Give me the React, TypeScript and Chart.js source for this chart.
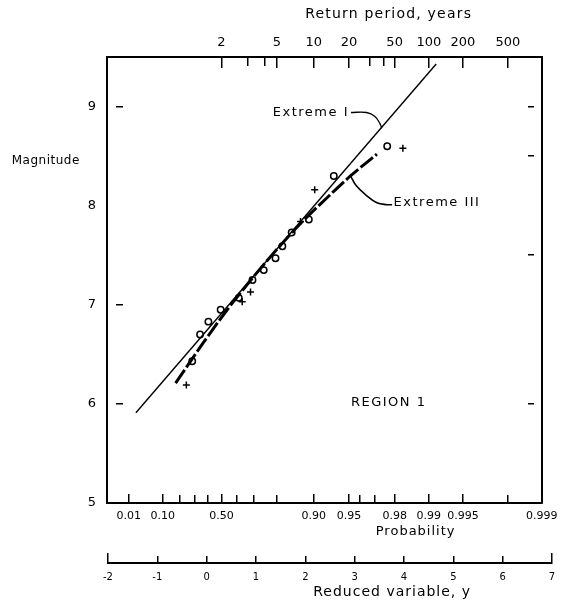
import React, { useEffect, useRef } from 'react';
import { Chart, registerables } from 'chart.js';

Chart.register(...registerables);

// ---------------- data ----------------
const probabilityTicks = [0.01, 0.1, 0.2, 0.3, 0.4, 0.5, 0.6, 0.7, 0.8, 0.9, 0.95, 0.96, 0.97, 0.98, 0.99, 0.995, 0.998, 0.999];
const probabilityLabels = ['0.01', '0.10', '', '', '', '0.50', '', '', '', '0.90', '0.95', '', '', '0.98', '0.99', '0.995', '', '0.999'];
const returnPeriods = [2, 3, 4, 5, 10, 20, 30, 40, 50, 100, 200, 500];
const returnLabels = ['2', '', '', '5', '10', '20', '', '', '50', '100', '200', '500'];
const magnitudeTicks = [5, 6, 7, 8, 9];
const magnitudeLabels = ['5', '6', '7', '8', '9'];
const leftMarks = [6, 7, 9];
const rightMarks = [6, 7.5, 8.5, 9];
const reducedTicks = [-2, -1, 0, 1, 2, 3, 4, 5, 6, 7];
const reducedLabels = ['-2', '-1', '0', '1', '2', '3', '4', '5', '6', '7'];

// observed events (reduced variable y, magnitude)
const circleY = [-0.23, -0.07, 0.10, 0.35, 0.72, 1.00, 1.23, 1.47, 1.61, 1.80, 2.15, 2.66, 3.75];
const circleMag = [6.43, 6.70, 6.83, 6.95, 7.07, 7.25, 7.35, 7.47, 7.59, 7.73, 7.86, 8.30, 8.60];
const plusY = [-0.35, 0.79, 0.96, 1.98, 2.27, 4.07];
const plusMag = [6.19, 7.03, 7.13, 7.84, 8.16, 8.58];

// fitted distributions
const extremeIY = [-1.38, 4.75];
const extremeIMag = [5.91, 9.43];
const extremeIIIY = [-0.57, 0.0, 0.5, 1.0, 1.5, 2.0, 2.5, 3.0, 3.54];
const extremeIIIMag = [6.21, 6.62, 6.96, 7.27, 7.56, 7.83, 8.07, 8.30, 8.52];

// label leader lines
const leaderIY = [3.01, 3.33, 3.50, 3.60, 3.64];
const leaderIMag = [8.94, 8.94, 8.90, 8.83, 8.78];
const leaderIIIY = [3.0, 3.12, 3.31, 3.54, 3.75, 3.85];
const leaderIIIMag = [8.30, 8.20, 8.11, 8.03, 8.01, 8.01];

// ---------------- helpers ----------------
const FAMILY = 'DejaVu Sans';
const X_MIN = -1.97;
const X_MAX = 6.91;
const gumbel = (p: number) => -Math.log(-Math.log(p));
const pts = (xs: number[], ys: number[]) => xs.map((x, i) => ({ x, y: ys[i] }));

// inward tick marks drawn as dashed grid lines
function markDash(dir: 'v' | 'h', from: 'start' | 'end', len: (c: any) => number, gap: number) {
  return (c: any) => {
    const a = c && c.chart && c.chart.chartArea;
    if (!a) return [];
    const span = dir === 'v' ? a.bottom - a.top : a.right - a.left;
    const L = len(c);
    if (from === 'start') return [0, gap, L, span * 2 + 200];
    return [0, Math.max(span - L - gap, 0), L, span * 2 + 200];
  };
}

const notesPlugin = {
  id: 'notes',
  afterDraw(chart: any, _args: any, opts: any) {
    const items = (opts && opts.items) || [];
    const ctx = chart.ctx;
    const xs = chart.scales.x;
    const ys = chart.scales.y;
    items.forEach((it: any) => {
      ctx.save();
      ctx.font = it.font;
      ctx.fillStyle = '#000';
      ctx.textAlign = it.align || 'center';
      ctx.textBaseline = 'middle';
      try { (ctx as any).letterSpacing = it.spacing || '0px'; } catch (e) { /* ignore */ }
      const px = xs.getPixelForValue(it.x);
      const py = it.y !== undefined ? ys.getPixelForValue(it.y) : chart.chartArea.bottom + it.dy;
      ctx.fillText(it.text, px, py);
      ctx.restore();
    });
  },
};

function mainConfig(): any {
  const black = '#000';
  return {
    type: 'scatter',
    data: {
      datasets: [
        {
          label: 'Extreme I',
          data: pts(extremeIY, extremeIMag),
          showLine: true,
          borderColor: black,
          borderWidth: 1.4,
          pointRadius: 0,
        },
        {
          label: 'Extreme III',
          data: pts(extremeIIIY, extremeIIIMag),
          showLine: true,
          borderColor: black,
          borderWidth: 3,
          borderDash: [16, 3],
          cubicInterpolationMode: 'monotone',
          pointRadius: 0,
        },
        {
          label: 'leader I',
          data: pts(leaderIY, leaderIMag),
          showLine: true,
          borderColor: black,
          borderWidth: 1.3,
          tension: 0.4,
          pointRadius: 0,
        },
        {
          label: 'leader III',
          data: pts(leaderIIIY, leaderIIIMag),
          showLine: true,
          borderColor: black,
          borderWidth: 1.6,
          tension: 0.4,
          pointRadius: 0,
        },
        {
          label: 'events o',
          data: pts(circleY, circleMag),
          pointStyle: 'circle',
          pointRadius: 3.2,
          borderWidth: 1.5,
          borderColor: black,
          backgroundColor: 'rgba(255,255,255,0)',
        },
        {
          label: 'events +',
          data: pts(plusY, plusMag),
          pointStyle: 'cross',
          pointRadius: 3.5,
          borderWidth: 1.5,
          borderColor: black,
        },
      ],
    },
    options: {
      responsive: false,
      animation: false,
      events: [],
      layout: { padding: { left: 67, right: 17, top: 31, bottom: 27 } },
      plugins: {
        legend: { display: false },
        tooltip: { enabled: false },
        notes: {
          items: [
            { text: 'Return period, years', x: 3.78, y: 9.93, font: `14px "${FAMILY}"`, spacing: '1.2px' },
            { text: 'Probability', x: 4.33, y: 4.71, font: `13px "${FAMILY}"`, spacing: '1px' },
            { text: 'Magnitude', x: -3.22, y: 8.45, font: `12px "${FAMILY}"`, spacing: '0.5px' },
            { text: 'Extreme I', x: 2.97, y: 8.94, font: `13px "${FAMILY}"`, spacing: '1.5px', align: 'right' },
            { text: 'Extreme III', x: 3.88, y: 8.035, font: `13px "${FAMILY}"`, spacing: '1.5px', align: 'left' },
            { text: 'REGION 1', x: 3.78, y: 6.01, font: `13px "${FAMILY}"`, spacing: '1.5px' },
          ],
        },
      },
      scales: {
        x: {
          type: 'linear',
          position: 'bottom',
          min: X_MIN,
          max: X_MAX,
          afterBuildTicks: (s: any) => { s.ticks = probabilityTicks.map((p) => ({ value: gumbel(p) })); },
          afterFit: (s: any) => { s.height = 30; },
          ticks: {
            autoSkip: false, maxRotation: 0, minRotation: 0, padding: 7, color: black,
            font: { size: 11, family: FAMILY },
            callback: (_v: any, i: number) => probabilityLabels[i] || '',
          },
          grid: { drawOnChartArea: true, drawTicks: false, color: black, lineWidth: 1.5 },
          border: {
            display: true, color: black, width: 2,
            dash: markDash('v', 'end', (c: any) => (probabilityLabels[c.index] ? 9 : 8), 0),
          },
        },
        x2: {
          type: 'linear',
          position: 'top',
          min: X_MIN,
          max: X_MAX,
          afterBuildTicks: (s: any) => { s.ticks = returnPeriods.map((t) => ({ value: gumbel(1 - 1 / t) })); },
          afterFit: (s: any) => { s.height = 26; },
          ticks: {
            autoSkip: false, maxRotation: 0, minRotation: 0, padding: 7, color: black,
            font: { size: 13, family: FAMILY },
            callback: (_v: any, i: number) => returnLabels[i] || '',
          },
          grid: { drawOnChartArea: true, drawTicks: false, color: black, lineWidth: 1.5 },
          border: {
            display: true, color: black, width: 2,
            dash: markDash('v', 'start', (c: any) => (returnLabels[c.index] ? 10 : 8), 0),
          },
        },
        y: {
          type: 'linear',
          position: 'left',
          min: 5,
          max: 9.5,
          afterBuildTicks: (s: any) => { s.ticks = magnitudeTicks.map((v) => ({ value: v })); },
          afterFit: (s: any) => { s.width = 40; },
          ticks: {
            padding: 11, color: black,
            font: { size: 13, family: FAMILY },
            callback: (_v: any, i: number) => magnitudeLabels[i] || '',
          },
          grid: {
            drawOnChartArea: true, drawTicks: false, color: black,
            lineWidth: (c: any) => (c.tick && leftMarks.includes(c.tick.value) ? 1.5 : 0),
          },
          border: { display: true, color: black, width: 2, dash: markDash('h', 'start', () => 7, 8) },
        },
        y2: {
          type: 'linear',
          position: 'right',
          min: 5,
          max: 9.5,
          afterBuildTicks: (s: any) => { s.ticks = rightMarks.map((v) => ({ value: v })); },
          afterFit: (s: any) => { s.width = 6; },
          ticks: { display: false },
          grid: { drawOnChartArea: true, drawTicks: false, color: black, lineWidth: 1.5 },
          border: { display: true, color: black, width: 2, dash: markDash('h', 'end', () => 6, 8) },
        },
      },
    },
    plugins: [notesPlugin],
  };
}

function axisConfig(): any {
  const black = '#000';
  return {
    type: 'scatter',
    data: { datasets: [] },
    options: {
      responsive: false,
      animation: false,
      events: [],
      layout: { padding: { left: 108, right: 13, top: 23, bottom: 0 } },
      plugins: {
        legend: { display: false },
        tooltip: { enabled: false },
        notes: {
          items: [
            { text: 'Reduced variable, y', x: 3.76, dy: 29, font: `14px "${FAMILY}"`, spacing: '1px' },
          ],
        },
      },
      scales: {
        x: {
          type: 'linear',
          min: -2,
          max: 7,
          afterBuildTicks: (s: any) => { s.ticks = reducedTicks.map((v) => ({ value: v })); },
          afterFit: (s: any) => { s.height = 37; },
          ticks: {
            autoSkip: false, maxRotation: 0, minRotation: 0, padding: 8, color: black,
            font: { size: 10, family: FAMILY },
            callback: (_v: any, i: number) => reducedLabels[i] || '',
          },
          grid: { drawOnChartArea: true, drawTicks: false, color: black, lineWidth: 1.5 },
          border: {
            display: true, color: black, width: 2,
            dash: (c: any) => {
              const last = reducedTicks.length - 1;
              if (c.index === 0 || c.index === last) return [];
              return markDash('v', 'end', () => 7, 0)(c);
            },
          },
        },
        y: { display: false, min: 0, max: 1 },
      },
    },
    plugins: [notesPlugin],
  };
}

export default function App() {
  const mainRef = useRef<HTMLCanvasElement>(null);
  const axisRef = useRef<HTMLCanvasElement>(null);

  useEffect(() => {
    Chart.defaults.font.family = FAMILY;
    Chart.defaults.color = '#000';
    const c1 = new Chart(mainRef.current as HTMLCanvasElement, mainConfig());
    const c2 = new Chart(axisRef.current as HTMLCanvasElement, axisConfig());
    return () => {
      c1.destroy();
      c2.destroy();
    };
  }, []);

  return (
    <div style={{ position: 'absolute', left: 0, top: 0, width: 565, height: 600, background: '#fff' }}>
      <canvas ref={mainRef} width={565} height={560} style={{ position: 'absolute', left: 0, top: 0 }} />
      <canvas ref={axisRef} width={565} height={70} style={{ position: 'absolute', left: 0, top: 530 }} />
    </div>
  );
}
